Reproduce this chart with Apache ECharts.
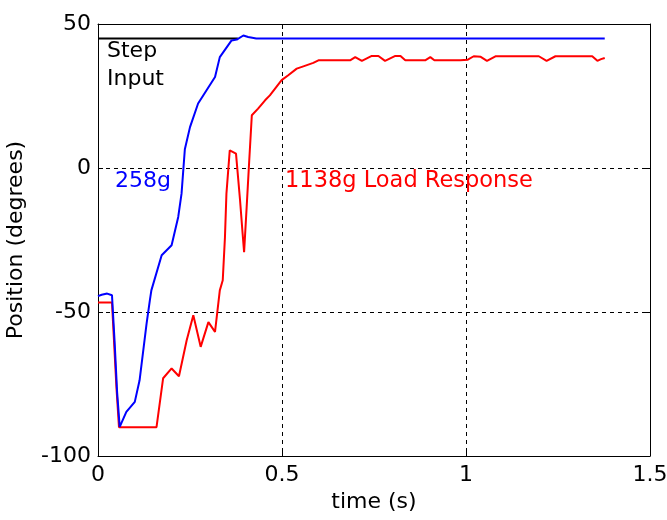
<!DOCTYPE html>
<html>
<head>
<meta charset="utf-8">
<script src="https://cdn.jsdelivr.net/npm/echarts@6/dist/echarts.min.js"></script>
<style>html,body{margin:0;padding:0;background:#fff;}#c{width:667px;height:520px;}</style>
</head>
<body>
<div id="c"></div>
<script>
var xTicks = [0, 0.5, 1, 1.5];
var yTicks = [-100, -50, 0, 50];

var stepT = [0, 0.38];
var stepV = [45, 45];

var blueT = [0, 0.01, 0.025, 0.038, 0.045, 0.052, 0.059, 0.077, 0.1, 0.113, 0.132, 0.141, 0.145, 0.173, 0.2, 0.218, 0.227, 0.236, 0.25, 0.272, 0.295, 0.318, 0.331, 0.363, 0.377, 0.395, 0.408, 0.43, 1.377];
var blueV = [-44.5, -44, -43.6, -44.2, -60, -78, -89.9, -84.7, -81.2, -73.7, -54, -45.9, -42.5, -30.3, -26.8, -17, -8.9, 6.5, 14.2, 22.4, 27, 31.6, 38.5, 44.3, 44.6, 46, 45.5, 45, 45];

var redT = [0, 0.038, 0.041, 0.05, 0.057, 0.159, 0.177, 0.2, 0.22, 0.241, 0.259, 0.279, 0.3, 0.318, 0.331, 0.339, 0.345, 0.349, 0.358, 0.375, 0.386, 0.393, 0.397, 0.404, 0.411, 0.418, 0.435, 0.454, 0.467, 0.499, 0.517, 0.54, 0.558, 0.585, 0.599, 0.685, 0.699, 0.717, 0.744, 0.762, 0.78, 0.808, 0.822, 0.835, 0.889, 0.903, 0.914, 0.984, 1.005, 1.021, 1.04, 1.057, 1.08, 1.198, 1.219, 1.243, 1.343, 1.357, 1.367, 1.377];
var redV = [-46.7, -46.7, -54, -76, -90, -90, -73, -69.6, -72.3, -59.8, -51.1, -62.1, -53.5, -56.9, -42.5, -39, -24, -8.9, 6.1, 5, -11.2, -22.8, -29.2, -13.5, 2.7, 18.3, 20.6, 23.5, 25.2, 30.5, 32.2, 34.5, 35.3, 36.5, 37.4, 37.4, 38.5, 37.2, 38.9, 38.9, 37.2, 38.9, 38.9, 37.4, 37.4, 38.5, 37.4, 37.4, 37.6, 38.8, 38.6, 37.2, 38.8, 38.8, 37.2, 38.8, 38.8, 37.2, 37.8, 38.2];

function zip(a, b) { return a.map(function (v, i) { return [v, b[i]]; }); }

var FONT = '"DejaVu Sans", sans-serif';
var chart = echarts.init(document.getElementById('c'), null, {renderer: 'canvas'});
chart.setOption({
  animation: false,
  backgroundColor: '#fff',
  grid: {left: 98, right: 17, top: 24, bottom: 64, containLabel: false, outerBoundsMode: 'none'},
  xAxis: [{
    type: 'value', min: 0, max: 1.5, interval: 0.5, position: 'bottom',
    name: 'time (s)', nameLocation: 'middle', nameGap: 28,
    nameTextStyle: {fontFamily: FONT, fontSize: 22, color: '#000'},
    axisLine: {show: true, onZero: false, lineStyle: {color: '#000', width: 1}},
    axisTick: {show: true, inside: true, length: 5, lineStyle: {color: '#000'}},
    axisLabel: {fontFamily: FONT, fontSize: 22, color: '#000', margin: 8, hideOverlap: false,
      formatter: function (v) { return xTicks.indexOf(v) >= 0 ? String(v) : ''; }},
    splitLine: {show: true, lineStyle: {color: '#000', type: [4, 4], width: 1}}
  }, {
    type: 'value', min: 0, max: 1.5, interval: 0.5, position: 'top',
    axisLine: {show: true, onZero: false, lineStyle: {color: '#000', width: 1}},
    axisTick: {show: true, inside: true, length: 5, lineStyle: {color: '#000'}},
    axisLabel: {show: false}, splitLine: {show: false}
  }],
  yAxis: [{
    type: 'value', min: -100, max: 50, interval: 50, position: 'left',
    name: 'Position (degrees)', nameLocation: 'middle', nameGap: 71, nameRotate: 90,
    nameTextStyle: {fontFamily: FONT, fontSize: 22, color: '#000'},
    axisLine: {show: true, onZero: false, lineStyle: {color: '#000', width: 1}},
    axisTick: {show: true, inside: true, length: 5, lineStyle: {color: '#000'}},
    axisLabel: {fontFamily: FONT, fontSize: 22, color: '#000', margin: 7,
      formatter: function (v) { return yTicks.indexOf(v) >= 0 ? String(v) : ''; }},
    splitLine: {show: true, lineStyle: {color: '#000', type: [4, 4], width: 1}}
  }, {
    type: 'value', min: -100, max: 50, interval: 50, position: 'right',
    axisLine: {show: true, onZero: false, lineStyle: {color: '#000', width: 1}},
    axisTick: {show: true, inside: true, length: 5, lineStyle: {color: '#000'}},
    axisLabel: {show: false}, splitLine: {show: false}
  }],
  series: [
    {type: 'line', data: zip(stepT, stepV), showSymbol: false, symbol: 'none',
      lineStyle: {color: '#000', width: 2}, z: 2},
    {type: 'line', data: zip(redT, redV), showSymbol: false, symbol: 'none',
      lineStyle: {color: '#ff0000', width: 2}, z: 3},
    {type: 'line', data: zip(blueT, blueV), showSymbol: false, symbol: 'none',
      lineStyle: {color: '#0000ff', width: 2}, z: 4}
  ],
  graphic: [
    {type: 'text', left: 107, top: 40, style: {text: 'Step', font: '22px ' + FONT, fill: '#000'}},
    {type: 'text', left: 107, top: 68, style: {text: 'Input', font: '22px ' + FONT, fill: '#000'}},
    {type: 'text', left: 115, top: 170, style: {text: '258g', font: '22px ' + FONT, fill: '#0000ff'}},
    {type: 'text', left: 285, top: 170, style: {text: '1138g Load Response', font: '22.5px ' + FONT, fill: '#ff0000'}}
  ]
});
</script>
</body>
</html>
